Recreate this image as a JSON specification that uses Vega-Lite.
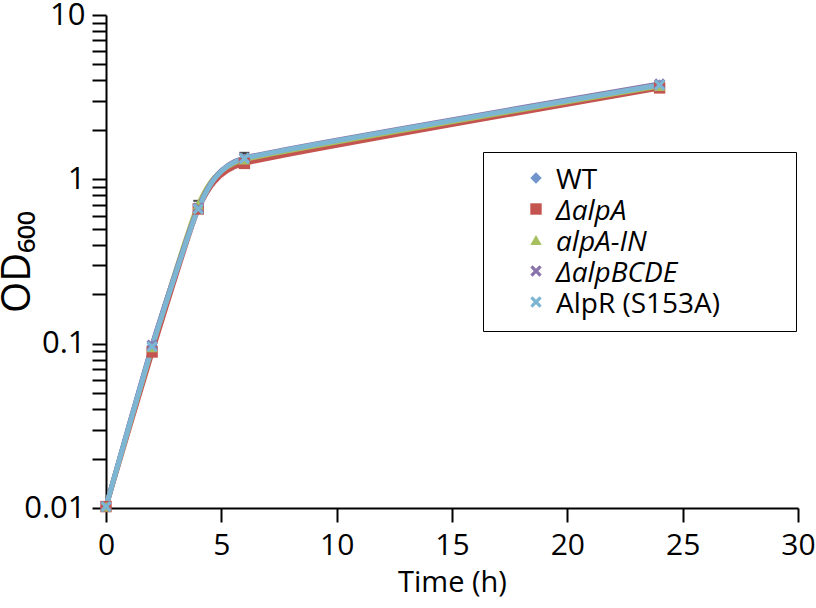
{
  "$schema": "https://vega.github.io/schema/vega-lite/v6.json",
  "width": 692,
  "height": 493,
  "autosize": "none",
  "padding": {"left": 106, "top": 15, "right": 18, "bottom": 100},
  "background": "white",
  "datasets": {
    "growth": [
      {"strain": "WT", "time": 0, "od": 0.0102},
      {"strain": "WT", "time": 2, "od": 0.097},
      {"strain": "WT", "time": 4, "od": 0.68},
      {"strain": "WT", "time": 6, "od": 1.33},
      {"strain": "WT", "time": 24, "od": 3.75},
      {"strain": "ΔalpA", "time": 0, "od": 0.0102},
      {"strain": "ΔalpA", "time": 2, "od": 0.089},
      {"strain": "ΔalpA", "time": 4, "od": 0.66},
      {"strain": "ΔalpA", "time": 6, "od": 1.25},
      {"strain": "ΔalpA", "time": 24, "od": 3.6},
      {"strain": "alpA-IN", "time": 0, "od": 0.0102},
      {"strain": "alpA-IN", "time": 2, "od": 0.095},
      {"strain": "alpA-IN", "time": 4, "od": 0.70},
      {"strain": "alpA-IN", "time": 6, "od": 1.32},
      {"strain": "alpA-IN", "time": 24, "od": 3.7},
      {"strain": "ΔalpBCDE", "time": 0, "od": 0.0102},
      {"strain": "ΔalpBCDE", "time": 2, "od": 0.098},
      {"strain": "ΔalpBCDE", "time": 4, "od": 0.67},
      {"strain": "ΔalpBCDE", "time": 6, "od": 1.35},
      {"strain": "ΔalpBCDE", "time": 24, "od": 3.8},
      {"strain": "AlpR (S153A)", "time": 0, "od": 0.0102},
      {"strain": "AlpR (S153A)", "time": 2, "od": 0.096},
      {"strain": "AlpR (S153A)", "time": 4, "od": 0.66},
      {"strain": "AlpR (S153A)", "time": 6, "od": 1.34},
      {"strain": "AlpR (S153A)", "time": 24, "od": 3.75}
    ],
    "errors": [
      {"time": 2, "lo": 0.088, "hi": 0.101},
      {"time": 4, "lo": 0.62, "hi": 0.74},
      {"time": 6, "lo": 1.24, "hi": 1.45},
      {"time": 24, "lo": 3.55, "hi": 3.9}
    ]
  },
  "layer": [
    {
      "data": {"name": "errors"},
      "mark": {"type": "rule", "color": "black", "strokeWidth": 2},
      "encoding": {
        "x": {"field": "time", "type": "quantitative", "scale": {"domain": [0, 30]},
          "axis": {"title": "Time (h)", "values": [0, 5, 10, 15, 20, 25, 30], "tickSize": 14, "labelPadding": 8, "titlePadding": 8, "labelFlush": false, "labelFontSize": 30, "titleFontSize": 29}},
        "y": {"field": "lo", "type": "quantitative", "scale": {"type": "log", "domain": [0.01, 10]},
          "axis": {"title": "OD₆₀₀", "titleFontSize": 40, "titlePadding": -14, "tickSize": 14, "labelPadding": 7, "labelFontSize": 31,
            "values": [0.01, 0.02, 0.03, 0.04, 0.05, 0.06, 0.07, 0.08, 0.09, 0.1, 0.2, 0.3, 0.4, 0.5, 0.6, 0.7, 0.8, 0.9, 1, 2, 3, 4, 5, 6, 7, 8, 9, 10],
            "labelExpr": "indexof([0.01, 0.1, 1, 10], datum.value) >= 0 ? datum.label : ''", "labelFlush": false, "labelOverlap": false}},
        "y2": {"field": "hi"}
      }
    },
    {
      "data": {"name": "errors"},
      "mark": {"type": "tick", "color": "black", "thickness": 2, "size": 10, "orient": "horizontal"},
      "encoding": {
        "x": {"field": "time", "type": "quantitative"},
        "y": {"field": "hi", "type": "quantitative"}
      }
    },
    {
      "data": {"name": "growth"},
      "mark": {"type": "line", "interpolate": "cardinal", "tension": 0.6, "strokeWidth": 5, "strokeCap": "round"},
      "encoding": {
        "x": {"field": "time", "type": "quantitative"},
        "y": {"field": "od", "type": "quantitative"},
        "color": {"field": "strain", "type": "nominal", "title": null,
          "scale": {"domain": ["WT", "ΔalpA", "alpA-IN", "ΔalpBCDE", "AlpR (S153A)"], "range": ["#6f95cc", "#c4544f", "#a7bf5e", "#8a72aa", "#7cb6d3"]},
          "legend": {"encode": {"labels": {"update": {"dy": {"value": 3}, "text": {"signal": "datum.label + '\u2003\u2003\u00a0\u200b'"}, "fontStyle": {"signal": "datum.value === 'WT' || datum.value === 'AlpR (S153A)' ? 'normal' : 'italic'"}}}, "symbols": {"update": {"dy": {"value": 3}}}}}}
      }
    },
    {
      "data": {"name": "growth"},
      "mark": {"type": "point", "filled": true, "opacity": 1, "size": 130},
      "encoding": {
        "x": {"field": "time", "type": "quantitative"},
        "y": {"field": "od", "type": "quantitative"},
        "color": {"field": "strain", "type": "nominal", "title": null,
          "legend": {"encode": {"labels": {"update": {"dy": {"value": 3}, "text": {"signal": "datum.label + '\u2003\u2003\u00a0\u200b'"}, "fontStyle": {"signal": "datum.value === 'WT' || datum.value === 'AlpR (S153A)' ? 'normal' : 'italic'"}}}, "symbols": {"update": {"dy": {"value": 3}}}}}},
        "shape": {"field": "strain", "type": "nominal", "title": null,
          "legend": {"encode": {"labels": {"update": {"dy": {"value": 3}, "text": {"signal": "datum.label + '\u2003\u2003\u00a0\u200b'"}, "fontStyle": {"signal": "datum.value === 'WT' || datum.value === 'AlpR (S153A)' ? 'normal' : 'italic'"}}}, "symbols": {"update": {"dy": {"value": 3}}}}},
          "scale": {"domain": ["WT", "ΔalpA", "alpA-IN", "ΔalpBCDE", "AlpR (S153A)"],
            "range": ["diamond", "square", "triangle-up", "M-1,-0.6L-0.6,-1L0,-0.4L0.6,-1L1,-0.6L0.4,0L1,0.6L0.6,1L0,0.4L-0.6,1L-1,0.6L-0.4,0Z", "M-1,-0.6L-0.6,-1L0,-0.4L0.6,-1L1,-0.6L0.4,0L1,0.6L0.6,1L0,0.4L-0.6,1L-1,0.6L-0.4,0Z"]}}
      }
    }
  ],
  "config": {
    "view": {"stroke": null},
    "font": "Open Sans",
    "axis": {"grid": false, "domainColor": "black", "tickColor": "black", "domainWidth": 2, "tickWidth": 2, "labelColor": "black", "titleColor": "black", "labelFont": "Open Sans", "titleFont": "Open Sans", "titleFontWeight": "normal"},
    "legend": {
      "orient": "none", "legendX": 377, "legendY": 137,
      "strokeColor": "black", "padding": 12, "rowPadding": 0,
      "labelFontSize": 28, "labelFont": "Open Sans", "labelColor": "black", "labelOffset": 6,
      "symbolSize": 130, "symbolOffset": 27, "symbolStrokeWidth": 0,
      "labelLimit": 500
    }
  }
}
